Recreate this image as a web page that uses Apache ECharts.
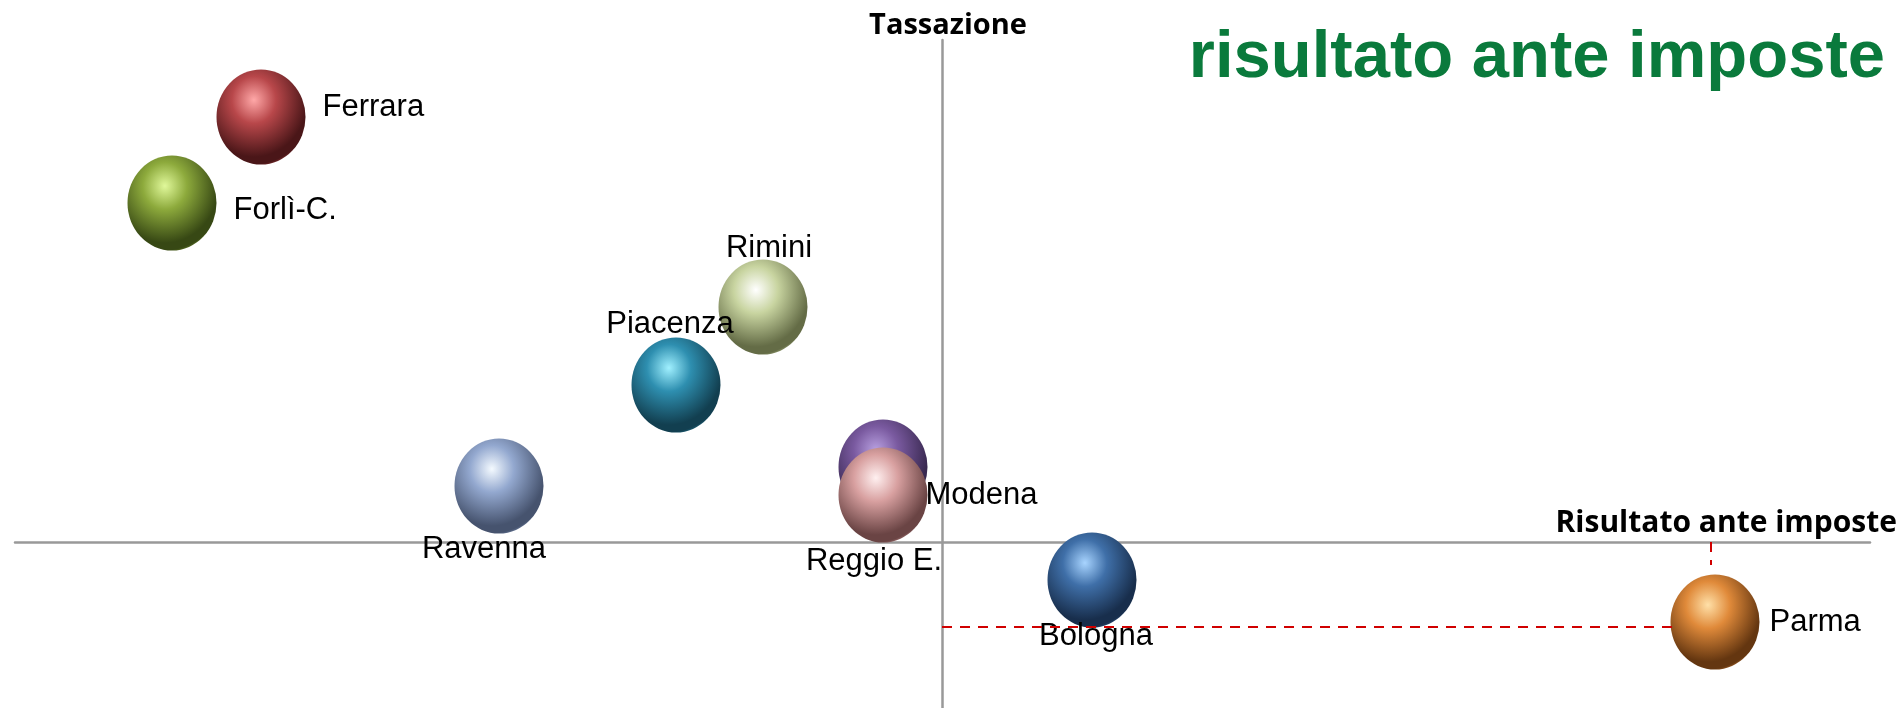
<!DOCTYPE html>
<html><head><meta charset="utf-8">
<script src="https://cdn.jsdelivr.net/npm/echarts@6/dist/echarts.min.js"></script>
<style>html,body{margin:0;padding:0;background:#fff}#c{width:1903px;height:708px}</style>
</head><body><div id="c"></div>
<script>
// Data (arbitrary units, axes cross at 0)
const provinces = ["Ferrara","Forlì-C.","Rimini","Piacenza","Ravenna","Modena","Reggio E.","Bologna","Parma"];
const risultato = [-6.81,-7.70,-1.79,-2.66,-4.43,-0.59,-0.59,1.50,7.73];
const tassazione = [4.25,3.39,2.35,1.57,0.56,0.75,0.47,-0.38,-0.80];
const guideH = [[0,-0.85],[7.30,-0.85]];
const guideV = [[7.69,0],[7.69,-0.23]];
const xRange = [-9.27, 9.28];
const yRange = [-1.66, 5.02];

// Styles
const palette = [
  ["#ffa8a8","#b8474a","#4a1618"],
  ["#e0f89a","#8daa3c","#374814"],
  ["#ffffff","#c8d4a0","#646c46"],
  ["#a0f0ff","#2e8fb0","#123f50"],
  ["#f4faff","#93a8cf","#46536e"],
  ["#b8a0e0","#7a5aa0","#38284f"],
  ["#fff0f0","#d8a0a0","#6a4444"],
  ["#a8d4ff","#3f6fa8","#182e4c"],
  ["#ffe0a8","#e08a3a","#643610"]
];
const labelCfg = [
  {position:"right",distance:17,offset:[0,-10]},
  {position:"right",distance:17,offset:[0,7]},
  {position:"top",distance:-4,offset:[6,0]},
  {position:"top",distance:-2,offset:[-6,0]},
  {position:"bottom",distance:0,offset:[-15,0]},
  {position:"right",distance:-2,offset:[0,28]},
  {position:"bottom",distance:3,offset:[-9,0]},
  {position:"bottom",distance:-7,offset:[4,0]},
  {position:"right",distance:10,offset:[0,0]}
];

function sphere(c){
  return {type:"radial",x:0.42,y:0.32,r:0.75,colorStops:[
    {offset:0,color:c[0]},{offset:0.33,color:c[1]},{offset:0.8,color:c[2]},{offset:0.9,color:c[2]},{offset:1,color:c[1]}]};
}

const data = provinces.map((p,i)=>({
  name:p, value:[risultato[i],tassazione[i]],
  itemStyle:{color:sphere(palette[i]),opacity:1},
  label:Object.assign({show:true,formatter:p,color:"#000"},labelCfg[i])
}));

const chart = echarts.init(document.getElementById("c"));
chart.setOption({
  animation:false,
  title:{text:"risultato ante imposte",right:13,top:20,
    textStyle:{color:"#0a7a3c",fontSize:67,fontWeight:"bold",fontFamily:"Liberation Sans, Arial, sans-serif"}},
  grid:{left:15,right:33,top:40,bottom:0},
  xAxis:{type:"value",min:xRange[0],max:xRange[1],splitLine:{show:false},axisTick:{show:false},axisLabel:{show:false},
    axisLine:{lineStyle:{color:"#999",width:2.5}},
    name:"Risultato ante imposte",nameLocation:"end",nameGap:27,
    nameTextStyle:{align:"right",verticalAlign:"bottom",padding:[0,0,4,0],fontSize:30,fontWeight:"bold",color:"#000",fontFamily:"Open Sans, Liberation Sans, sans-serif"}},
  yAxis:{type:"value",min:yRange[0],max:yRange[1],splitLine:{show:false},axisTick:{show:false},axisLabel:{show:false},
    axisLine:{lineStyle:{color:"#999",width:2.5}},
    name:"Tassazione",nameLocation:"end",nameGap:0,
    nameTextStyle:{align:"center",verticalAlign:"bottom",padding:[0,0,0,12],fontSize:29,fontWeight:"bold",color:"#000",fontFamily:"Open Sans, Liberation Sans, sans-serif"}},
  series:[{
    type:"scatter",symbol:"circle",symbolSize:[89,95],
    label:{color:"#000",fontSize:31,fontFamily:"Liberation Sans, Arial, sans-serif"},
    data:data,
    markLine:{silent:true,symbol:"none",label:{show:false},
      lineStyle:{color:"#d00000",type:[10,8],width:2},
      data:[[{coord:guideH[0]},{coord:guideH[1]}],[{coord:guideV[0]},{coord:guideV[1]}]]},
    z:3
  }]
});
</script></body></html>
